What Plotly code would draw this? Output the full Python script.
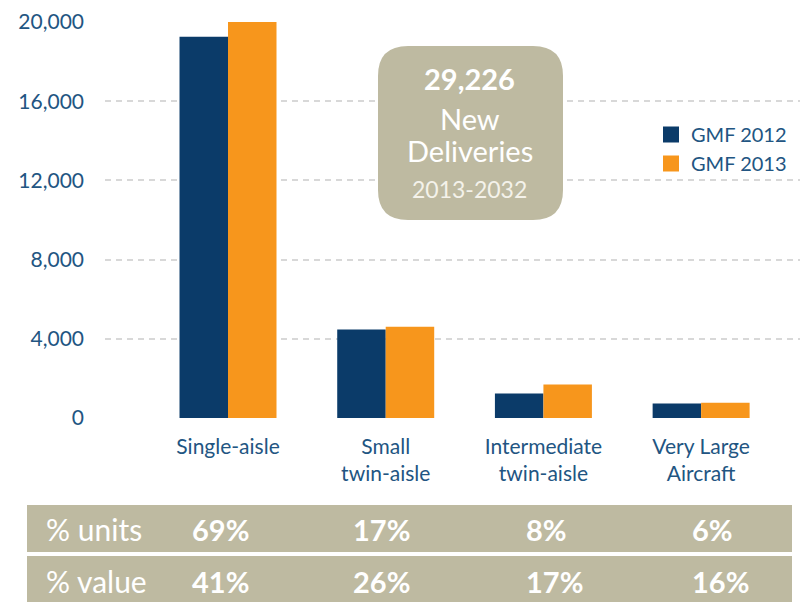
import plotly.graph_objects as go

# ---------------- data ----------------
categories = ["Single-aisle", "Small<br>twin-aisle", "Intermediate<br>twin-aisle", "Very Large<br>Aircraft"]
gmf2012 = [19260, 4470, 1240, 730]
gmf2013 = [20000, 4610, 1690, 770]
series_names = ["GMF 2012", "GMF 2013"]
y_ticks = [0, 4000, 8000, 12000, 16000, 20000]
y_tick_labels = ["0", "4,000", "8,000", "12,000", "16,000", "20,000"]
row_labels = ["% units", "% value"]
units_pct = ["69%", "17%", "8%", "6%"]
value_pct = ["41%", "26%", "17%", "16%"]
box_lines = ["29,226", "New", "Deliveries", "2013-2032"]

# ---------------- style ----------------
NAVY = "#0B3B69"
ORANGE = "#F7961C"
TAN = "#BEBAA1"
TEXT_BLUE = "#225582"
FONT = "Lato, Open Sans, sans-serif"

W, H = 805, 602
L, R, T, B = 105, 800, 22, 418  # plot area in pixels


def px2x(px):
    return (px - L) / (R - L)


def py2y(py):
    return (B - py) / (B - T)


def rounded_rect(x0, y0, x1, y1, r):
    ax, bx = px2x(x0), px2x(x1)
    ay, by = py2y(y1), py2y(y0)
    rx = r / (R - L)
    ry = r / (B - T)
    return (f"M {ax+rx},{ay} L {bx-rx},{ay} Q {bx},{ay} {bx},{ay+ry} "
            f"L {bx},{by-ry} Q {bx},{by} {bx-rx},{by} "
            f"L {ax+rx},{by} Q {ax},{by} {ax},{by-ry} "
            f"L {ax},{ay+ry} Q {ax},{ay} {ax+rx},{ay} Z")


fig = go.Figure()
fig.add_trace(go.Bar(x=categories, y=gmf2012, name=series_names[0],
                     marker=dict(color=NAVY, line=dict(width=0)), showlegend=False))
fig.add_trace(go.Bar(x=categories, y=gmf2013, name=series_names[1],
                     marker=dict(color=ORANGE, line=dict(width=0)), showlegend=False))
for name, col in zip(series_names, [NAVY, ORANGE]):
    fig.add_trace(go.Scatter(x=[None], y=[None], mode="markers", name=name,
                             marker=dict(symbol="square", size=19, color=col)))

shapes = []
shapes.append(dict(type="path", xref="paper", yref="paper",
                   path=rounded_rect(378, 46, 563, 220, 30),
                   fillcolor=TAN, line=dict(width=0), layer="above"))
shapes.append(dict(type="rect", xref="paper", yref="paper",
                   x0=px2x(27), x1=px2x(792), y0=py2y(552), y1=py2y(505),
                   fillcolor=TAN, line=dict(width=0)))
shapes.append(dict(type="rect", xref="paper", yref="paper",
                   x0=px2x(27), x1=px2x(792), y0=py2y(612), y1=py2y(556),
                   fillcolor=TAN, line=dict(width=0)))

annotations = []
box_specs = [(78, 29, "bold", "white"), (119, 29, "normal", "white"),
             (150, 29, "normal", "white"), (189, 23, "normal", "#F4F2EA")]
for txt, (py, size, weight, col) in zip(box_lines, box_specs):
    annotations.append(dict(text=txt, xref="paper", yref="paper", x=px2x(470), y=py2y(py),
                            xanchor="center", yanchor="middle", showarrow=False,
                            font=dict(family=FONT, size=size, color=col, weight=weight)))

col_lefts = [190, 351, 524, 690]
row_ys = [529, 581]
for row_label, vals, py in zip(row_labels, [units_pct, value_pct], row_ys):
    annotations.append(dict(text=row_label, xref="paper", yref="paper", x=px2x(44), y=py2y(py),
                            xanchor="left", yanchor="middle", showarrow=False,
                            font=dict(family=FONT, size=30, color="white")))
    for v, cx in zip(vals, col_lefts):
        annotations.append(dict(text=v, xref="paper", yref="paper", x=px2x(cx), y=py2y(py),
                                xanchor="left", yanchor="middle", showarrow=False,
                                font=dict(family=FONT, size=29, color="white", weight="bold")))

fig.update_layout(
    width=W, height=H,
    margin=dict(l=L, r=W - R, t=T, b=H - B, pad=0),
    paper_bgcolor="white", plot_bgcolor="white",
    barmode="group", bargap=0.385, bargroupgap=0,
    font=dict(family=FONT, color=TEXT_BLUE),
    showlegend=True,
    legend=dict(x=px2x(651), y=py2y(115), xanchor="left", yanchor="top",
                font=dict(family=FONT, size=20, color=TEXT_BLUE),
                bgcolor="rgba(0,0,0,0)", itemsizing="trace",
                tracegroupgap=0, itemwidth=30),
    shapes=shapes,
    annotations=annotations,
)
fig.update_xaxes(range=[-0.78, 3.627], showgrid=False, zeroline=False, showline=False,
                 ticks="", tickfont=dict(family=FONT, size=21, color=TEXT_BLUE),
                 ticklabelstandoff=14)
fig.update_yaxes(range=[0, 20000], tickvals=y_ticks, ticktext=y_tick_labels,
                 showgrid=True, gridcolor="#D8D8D8", gridwidth=1.5, griddash="6px,5px",
                 zeroline=False, showline=False, ticks="",
                 tickfont=dict(family=FONT, size=21, color=TEXT_BLUE),
                 ticklabelstandoff=20)

fig.write_html("out.html", config={"displayModeBar": False},
               post_script="document.body.style.margin='0px';")
